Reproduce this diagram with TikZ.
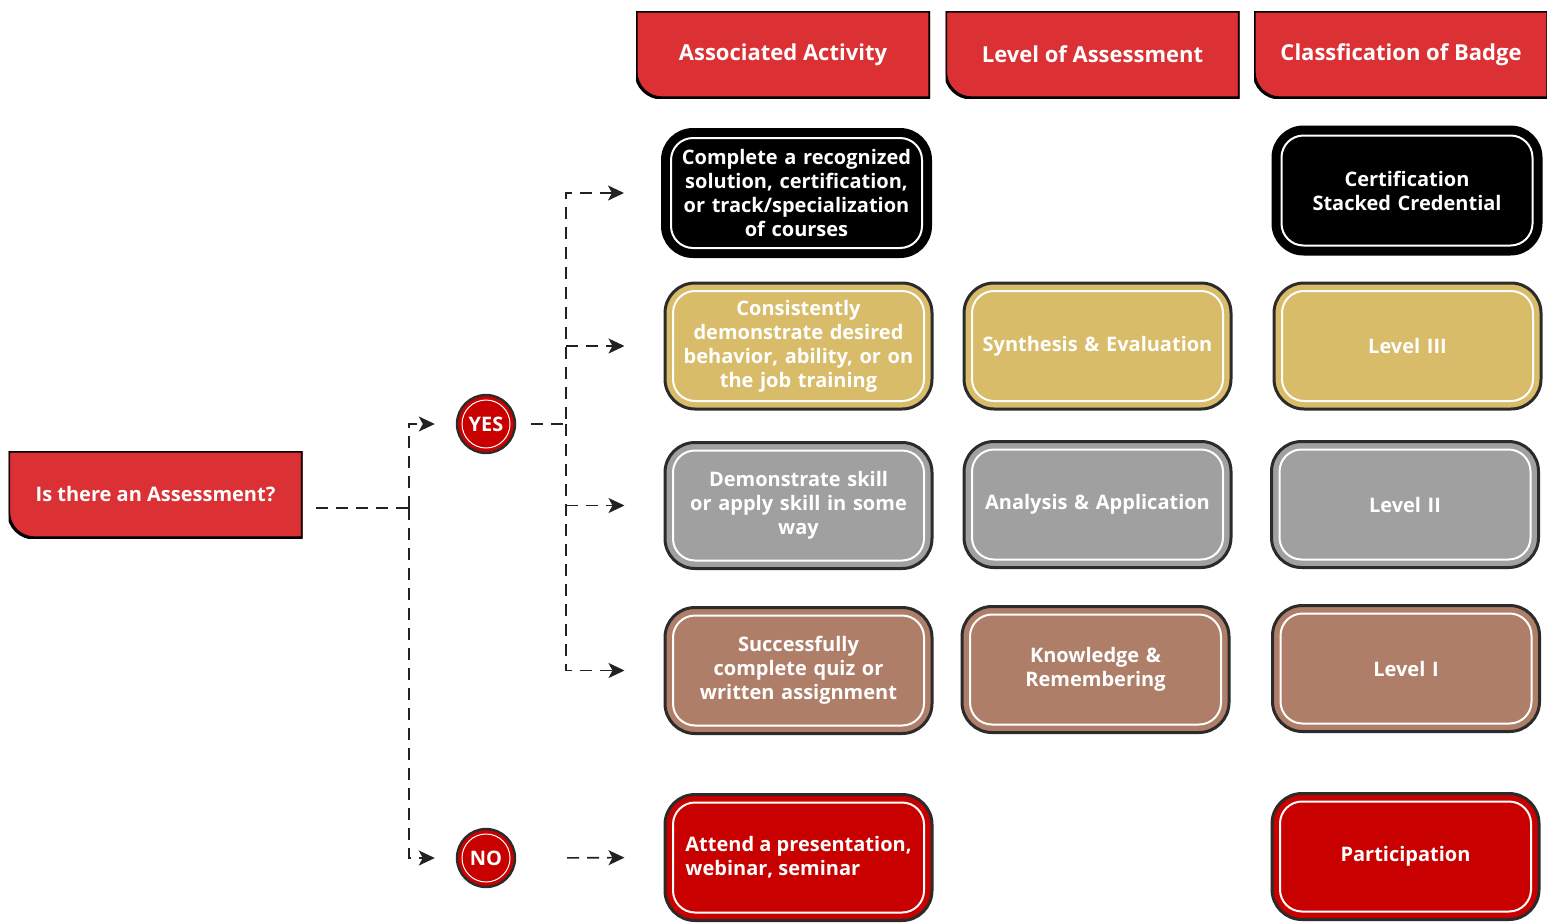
\documentclass[tikz,border=0pt]{standalone}
\usepackage{fontspec}
\setmainfont{Open Sans}
\usetikzlibrary{arrows.meta}
\definecolor{hdrred}{HTML}{DB3034}
\definecolor{boxred}{HTML}{C80000}
\definecolor{gold}{HTML}{D8BC6A}
\definecolor{stone}{HTML}{A0A0A0}
\definecolor{clay}{HTML}{AF7E68}
\definecolor{edge}{HTML}{2B2B2B}
\definecolor{linegray}{HTML}{222222}
\begin{document}
\begin{tikzpicture}[x=0.5pt, y=-0.5pt,
    txt/.style={text=white, font=\bfseries\fontsize{10}{12}\selectfont},
    hdr/.style={txt, minimum width=147pt, minimum height=43.5pt, inner sep=0pt,
        path picture={\filldraw[fill=hdrred, draw=black, line width=1.6pt]
            (path picture bounding box.north west) -- (path picture bounding box.north east)
            -- (path picture bounding box.south east) -- ([xshift=13pt]path picture bounding box.south west)
            arc[start angle=270, end angle=180, radius=13pt] -- cycle;}},
    colhead/.style={hdr, font=\bfseries\fontsize{11}{13}\selectfont},
    card/.style={txt, rectangle, rounded corners=15pt, draw=edge, line width=1.5pt,
        minimum width=133.5pt, minimum height=63pt, text width=125pt, align=center,
        path picture={\draw[white, line width=1pt, rounded corners=11pt]
            ([shift={(4pt,4pt)}]path picture bounding box.south west) rectangle
            ([shift={(-4pt,-4pt)}]path picture bounding box.north east);}},
    blackcard/.style={card, fill=black, draw=black, line width=2pt},
    goldcard/.style={card, fill=gold},
    stonecard/.style={card, fill=stone},
    claycard/.style={card, fill=clay},
    redcard/.style={card, fill=boxred},
    ball/.style={txt, circle, fill=boxred, draw=edge, line width=1.2pt, minimum size=29pt, inner sep=0pt,
        path picture={\draw[white, line width=0.5pt] (path picture bounding box.center) circle[radius=12pt];}},
    link/.style={draw=linegray, line width=0.8pt, dash pattern=on 6pt off 4pt,
        -{Stealth[length=8pt, width=7.5pt, inset=2pt]}}]
    \useasboundingbox (0,0) rectangle (1547,922);
    % column heads
    \node[colhead] (head1) at (783, 54.5) {Associated Activity};
    \node[colhead] (head2) at (1092.5, 54.5) {Level of Assessment};
    \node[colhead] (head3) at (1401, 54.5) {Classfication of Badge};
    % question
    \node[hdr] (q) at (155.5, 494.5) {Is there an Assessment?};
    \node[ball] (yes) at (486, 424) {YES};
    \node[ball] (no) at (486, 858) {NO};
    % activities
    \node[blackcard] (act1) at (796.5, 193) {Complete a recognized\\solution, certification,\\or track/specialization\\of courses};
    \node[goldcard] (act2) at (798.5, 346) {Consistently\\demonstrate desired\\behavior, ability, or on\\the job training};
    \node[stonecard] (act3) at (798.5, 505.5) {Demonstrate skill\\or apply skill in some\\way};
    \node[claycard] (act4) at (798.5, 670.5) {Successfully\\complete quiz or\\written assignment};
    \node[redcard, text width={}, align=left] (act5) at (798.5, 857.5) {Attend a presentation,\\webinar, seminar};
    % levels
    \node[goldcard] (lvl2) at (1097.5, 346) {Synthesis \& Evaluation};
    \node[stonecard] (lvl3) at (1097.5, 504.5) {Analysis \& Application};
    \node[claycard] (lvl4) at (1095.5, 669.5) {Knowledge \&\\Remembering};
    % badges
    \node[blackcard] (badge1) at (1407, 190.5) {Certification\\Stacked Credential};
    \node[goldcard] (badge2) at (1407.5, 346) {Level III};
    \node[stonecard] (badge3) at (1405, 504.5) {Level II};
    \node[claycard] (badge4) at (1406, 668.5) {Level I};
    \node[redcard] (badge5) at (1405.5, 856.5) {Participation};
    % connectors
    \coordinate (qout) at (316, 508);
    \coordinate (j1) at (409, 508);
    \coordinate (j2) at (566, 424);
    \draw[link, -] (qout) -- (j1);
    \draw[link, shorten >=10.5pt] (j1) |- (yes.west);
    \draw[link, shorten >=10.5pt] (j1) |- (no.west);
    \draw[link, shorten <=7.5pt, shorten >=18.5pt] (yes.east) -- (j2) |- (act1.west);
    \draw[link, shorten >=19.5pt] (j2) |- (act4.west);
    \draw[link, shorten >=19.5pt] (j2 |- act2.west) -- (act2.west);
    \draw[link, shorten >=19.5pt] (j2 |- act3.west) -- (act3.west);
    \draw[link, shorten <=25.5pt, shorten >=19.5pt] (no.east) -- (act5.west);
\end{tikzpicture}
\end{document}
